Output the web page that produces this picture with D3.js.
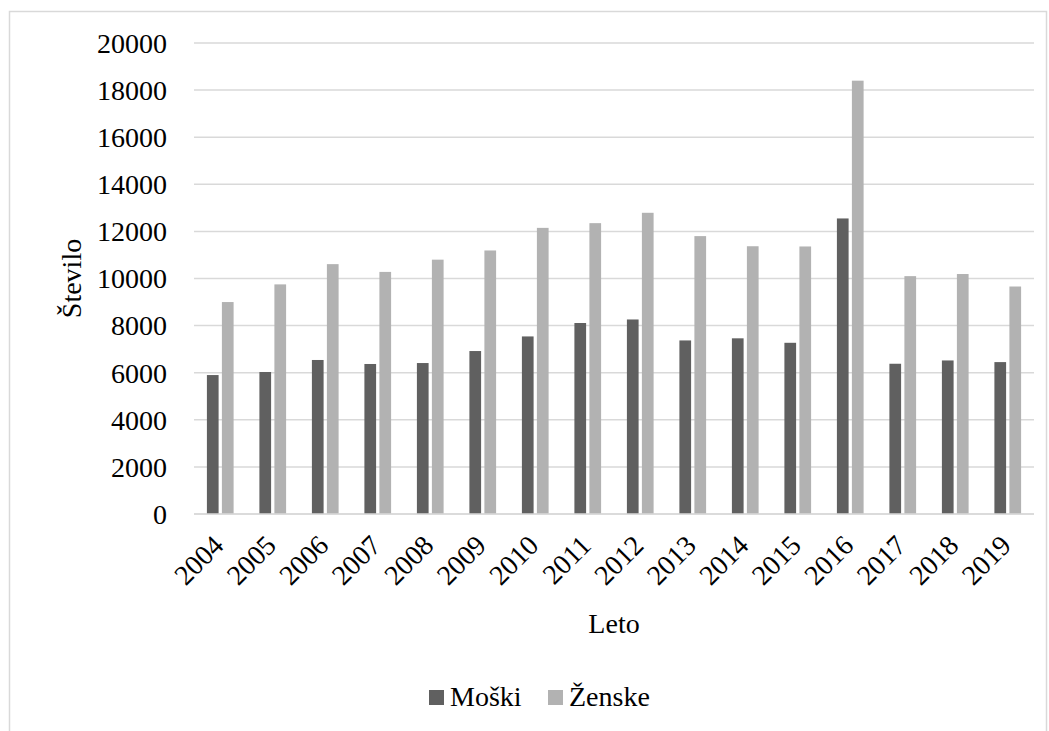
<!DOCTYPE html>
<html>
<head>
<meta charset="utf-8">
<script src="https://cdn.jsdelivr.net/npm/d3@7"></script>
<style>
  html, body { margin: 0; padding: 0; background: #fff; }
  svg { display: block; }
  text { font-family: "Liberation Serif", "Times New Roman", serif; fill: #000; }
</style>
</head>
<body>
<svg id="chart" width="1049" height="731"></svg>
<script>
// Število po letih, ločeno po spolu
const years = ["2004","2005","2006","2007","2008","2009","2010","2011","2012","2013","2014","2015","2016","2017","2018","2019"];
const moski  = [5900, 6030, 6540, 6370, 6410, 6920, 7540, 8110, 8260, 7370, 7460, 7270, 12550, 6380, 6520, 6450];
const zenske = [9000, 9750, 10610, 10280, 10800, 11190, 12150, 12350, 12790, 11800, 11370, 11360, 18400, 10100, 10190, 9660];
const seriesNames = ["Moški", "Ženske"];
const yTicks = [0, 2000, 4000, 6000, 8000, 10000, 12000, 14000, 16000, 18000, 20000];

const colors = ["#606060", "#b2b2b2"];
const gridColor = "#d9d9d9";
const fontSize = 28;

const svg = d3.select("#chart");
const plot = { left: 194, right: 1034, top: 43, bottom: 514 };

// outer frame
svg.append("rect")
  .attr("x", 9.5).attr("y", 11.5)
  .attr("width", 1037).attr("height", 800)
  .attr("fill", "#fff").attr("stroke", gridColor).attr("stroke-width", 1.5);

const x = d3.scaleBand().domain(years).range([plot.left, plot.right]).paddingInner(0).paddingOuter(0);
const y = d3.scaleLinear().domain([0, 20000]).range([plot.bottom, plot.top]);

// horizontal gridlines and value labels
const yAxis = svg.append("g");
yAxis.selectAll("line.grid").data(yTicks).join("line")
  .attr("class", "grid")
  .attr("x1", plot.left).attr("x2", plot.right)
  .attr("y1", d => y(d)).attr("y2", d => y(d))
  .attr("stroke", gridColor).attr("stroke-width", 1.5);
yAxis.selectAll("text").data(yTicks).join("text")
  .attr("x", 167).attr("y", d => y(d))
  .attr("dy", "0.35em")
  .attr("text-anchor", "end")
  .attr("font-size", fontSize)
  .text(d => d);

// bars: two per year, narrow, with a small gap between them
const barW = 11.7, gap = 3.3;
const series = [moski, zenske];
series.forEach((vals, si) => {
  svg.append("g").selectAll("rect").data(vals).join("rect")
    .attr("x", (d, i) => x(years[i]) + x.bandwidth() / 2 + (si === 0 ? -(barW + gap / 2) : gap / 2))
    .attr("y", d => y(d))
    .attr("width", barW)
    .attr("height", d => y(0) - y(d))
    .attr("fill", colors[si]);
});

// baseline
svg.append("line")
  .attr("x1", plot.left).attr("x2", plot.right)
  .attr("y1", y(0)).attr("y2", y(0))
  .attr("stroke", gridColor).attr("stroke-width", 1.5);

// rotated year labels
svg.append("g").selectAll("text").data(years).join("text")
  .attr("text-anchor", "end")
  .attr("font-size", fontSize)
  .attr("transform", d => `translate(${x(d) + x.bandwidth() / 2 + 5},${plot.bottom + 33}) rotate(-45)`)
  .text(d => d);

// axis titles
svg.append("text")
  .attr("x", (plot.left + plot.right) / 2).attr("y", 633)
  .attr("text-anchor", "middle").attr("font-size", fontSize)
  .text("Leto");
svg.append("text")
  .attr("transform", `translate(81,${(plot.top + plot.bottom) / 2}) rotate(-90)`)
  .attr("text-anchor", "middle").attr("font-size", fontSize)
  .text("Število");

// legend
const legendItems = [
  { name: seriesNames[0], color: colors[0], x: 429 },
  { name: seriesNames[1], color: colors[1], x: 548 }
];
const lg = svg.append("g").selectAll("g").data(legendItems).join("g");
lg.append("rect")
  .attr("x", d => d.x).attr("y", 690)
  .attr("width", 15).attr("height", 15)
  .attr("fill", d => d.color);
lg.append("text")
  .attr("x", d => d.x + 21).attr("y", 706)
  .attr("font-size", fontSize)
  .text(d => d.name);
</script>
</body>
</html>
